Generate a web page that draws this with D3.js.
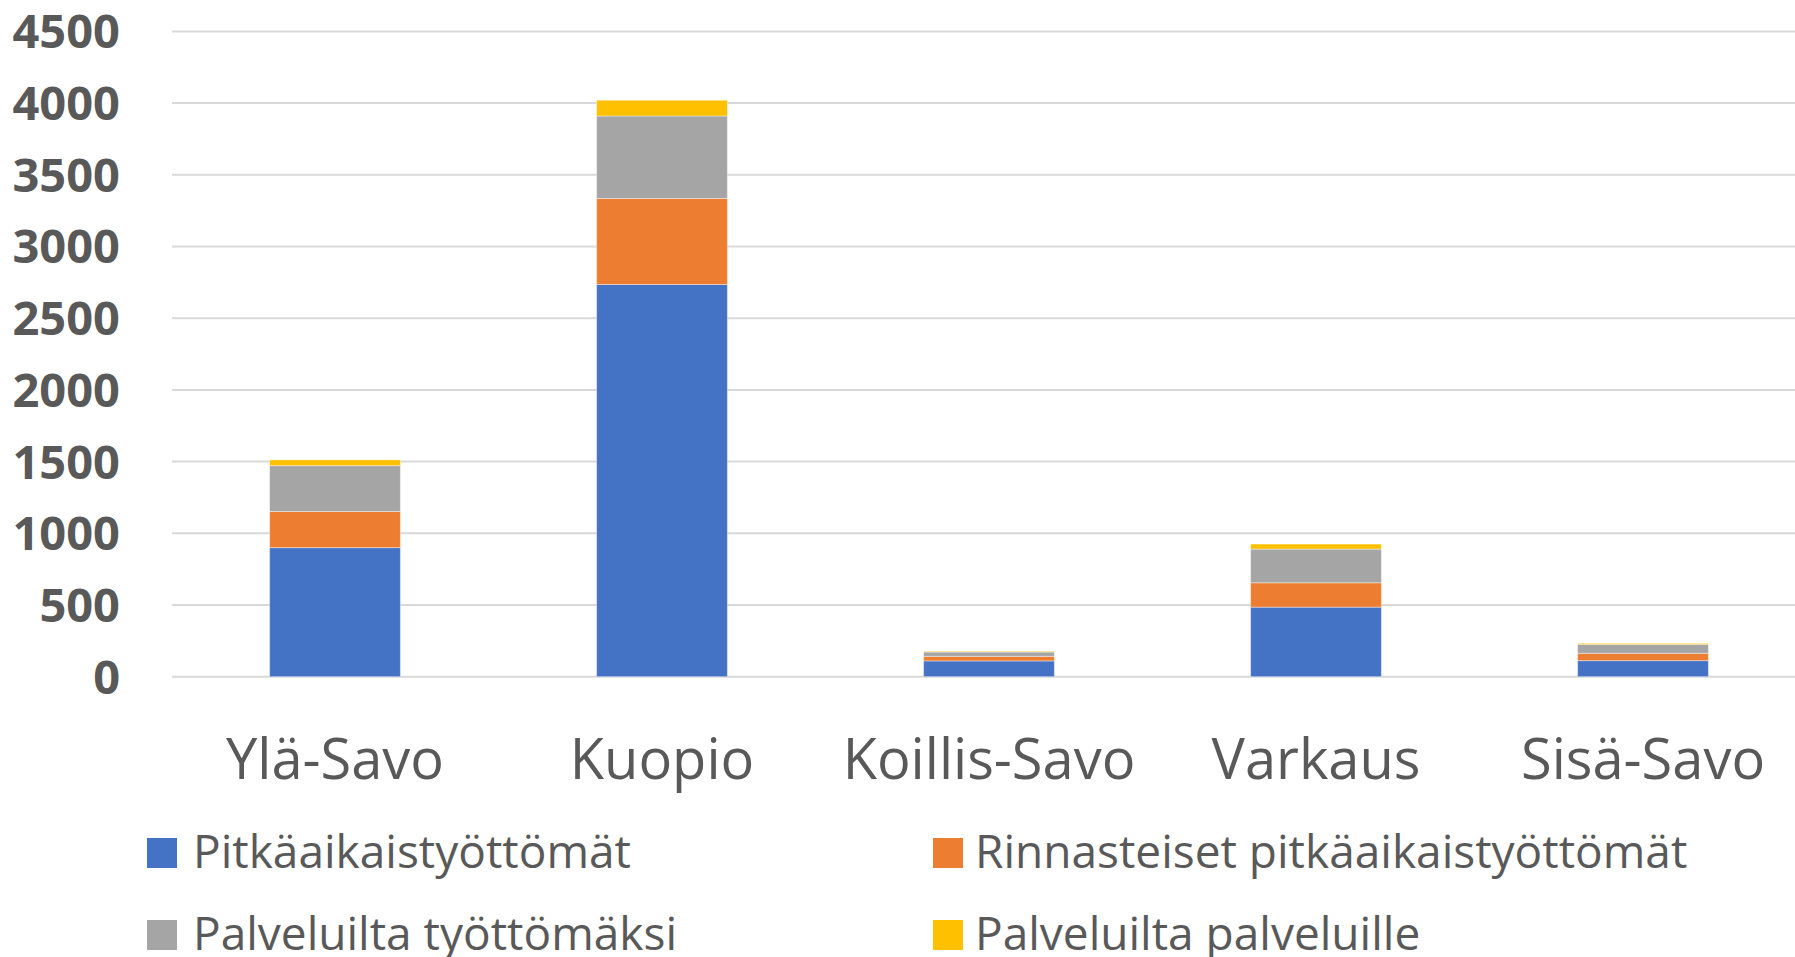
<!DOCTYPE html>
<html lang="fi">
<head>
    <meta charset="UTF-8">
    <title>Pitkäaikaistyöttömät alueittain</title>
    <script src="https://d3js.org/d3.v7.min.js"></script>
    <style>
        body { margin: 0; background: #fff; }
        svg text { fill: #595959; font-family: "Open Sans", sans-serif; }
        .grid line { stroke: #d9d9d9; stroke-width: 2; }
    </style>
</head>
<body>
    <svg id="chart" width="1795" height="957"></svg>
    <script>
        // data
        const regions = ["Ylä-Savo", "Kuopio", "Koillis-Savo", "Varkaus", "Sisä-Savo"];
        const seriesNames = ["Pitkäaikaistyöttömät", "Rinnasteiset pitkäaikaistyöttömät", "Palveluilta työttömäksi", "Palveluilta palveluille"];
        const pitkaaikaiset = [900, 2735, 110, 485, 112];
        const rinnasteiset = [252, 600, 32, 170, 51];
        const tyottomaksi = [320, 575, 30, 235, 63];
        const palveluille = [40, 110, 5, 35, 7];
        const yTicks = [0, 500, 1000, 1500, 2000, 2500, 3000, 3500, 4000, 4500];
        const colors = ["#4472c4", "#ed7d31", "#a5a5a5", "#ffc000"];

        const svg = d3.select("#chart");

        const x = d3.scaleBand()
            .domain(regions)
            .range([171.5, 1806.5])
            .paddingInner(0.6)
            .paddingOuter(0.3);

        const y = d3.scaleLinear()
            .domain([0, 4500])
            .range([676.7, 31.4]);

        // gridlines
        svg.append("g").attr("class", "grid")
            .selectAll("line")
            .data(yTicks)
            .join("line")
            .attr("x1", 172)
            .attr("x2", 1795)
            .attr("y1", d => y(d))
            .attr("y2", d => y(d));

        // y axis labels
        svg.append("g")
            .selectAll("text")
            .data(yTicks)
            .join("text")
            .attr("x", 120)
            .attr("y", d => y(d))
            .attr("dy", "0.36em")
            .attr("text-anchor", "end")
            .style("font-size", "47px")
            .style("font-weight", "bold")
            .text(d => d);

        // stack the series
        const rows = regions.map((r, i) => ({
            region: r,
            s0: pitkaaikaiset[i],
            s1: rinnasteiset[i],
            s2: tyottomaksi[i],
            s3: palveluille[i]
        }));
        const stacked = d3.stack().keys(["s0", "s1", "s2", "s3"])(rows);

        svg.append("g")
            .selectAll("g")
            .data(stacked)
            .join("g")
            .attr("fill", (d, i) => colors[i])
            .selectAll("rect")
            .data(d => d)
            .join("rect")
            .attr("x", d => x(d.data.region))
            .attr("width", x.bandwidth())
            .attr("y", d => y(d[1]))
            .attr("height", d => y(d[0]) - y(d[1]))
            .attr("stroke", "#ffffff")
            .attr("stroke-opacity", 0.4)
            .attr("stroke-width", 1);

        // category labels
        svg.append("g")
            .selectAll("text")
            .data(regions)
            .join("text")
            .attr("x", d => x(d) + x.bandwidth() / 2)
            .attr("y", 779)
            .attr("text-anchor", "middle")
            .style("font-size", "56px")
            .text(d => d);

        // legend, two columns
        const legendPos = [
            { sx: 147, tx: 193, y: 838 },
            { sx: 933, tx: 975, y: 838 },
            { sx: 147, tx: 193, y: 920 },
            { sx: 933, tx: 975, y: 920 }
        ];
        const legend = svg.append("g")
            .selectAll("g")
            .data(seriesNames)
            .join("g");

        legend.append("rect")
            .attr("x", (d, i) => legendPos[i].sx)
            .attr("y", (d, i) => legendPos[i].y)
            .attr("width", 30)
            .attr("height", 30)
            .attr("fill", (d, i) => colors[i]);

        legend.append("text")
            .attr("x", (d, i) => legendPos[i].tx)
            .attr("y", (d, i) => legendPos[i].y + 30)
            .style("font-size", "46px")
            .text(d => d);
    </script>
</body>
</html>
